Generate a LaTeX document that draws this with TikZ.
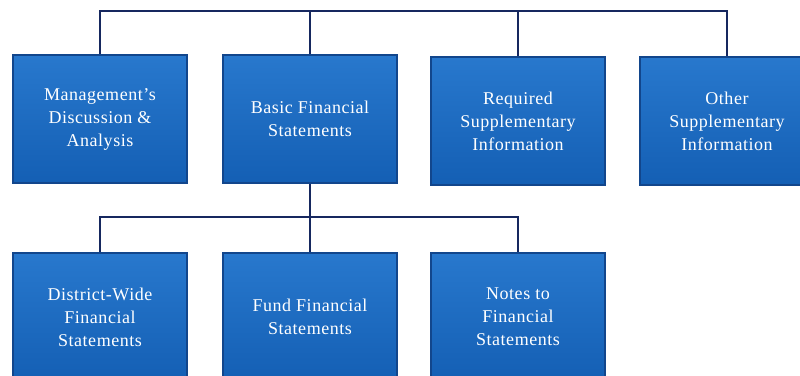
\documentclass[tikz,border=0pt]{standalone}
\usepackage{fontspec}
\setmainfont[LetterSpace=3]{Liberation Serif}
\definecolor{boxtop}{RGB}{40,120,205}
\definecolor{boxbot}{RGB}{20,95,180}
\definecolor{boxedge}{RGB}{18,70,140}
\definecolor{linecol}{RGB}{22,40,95}
\tikzset{
  orgbox/.style={rectangle, minimum width=174pt, minimum height=128pt,
    top color=boxtop, bottom color=boxbot, draw=boxedge, line width=1.2pt,
    text=white, align=center, font=\fontsize{18}{23}\selectfont, inner sep=2pt},
  conn/.style={draw=linecol, line width=1.8pt}
}
\begin{document}
\begin{tikzpicture}[x=1pt,y=-1pt]
\useasboundingbox (0,0) rectangle (800,375);
\clip (0,0) rectangle (800,375);
\coordinate (top) at (0,11);
\coordinate (mid) at (0,217);
\node[orgbox] (m) at (100,119) {Management's\\Discussion \&\\Analysis};
\node[orgbox] (b) at (310,119) {Basic Financial\\Statements};
\node[orgbox] (r) at (518,121) {Required\\Supplementary\\Information};
\node[orgbox] (o) at (727,121) {Other\\Supplementary\\Information};
\node[orgbox] (d) at (100,317) {District-Wide\\Financial\\Statements};
\node[orgbox] (f) at (310,317) {Fund Financial\\Statements};
\node[orgbox] (n) at (518,317) {Notes to\\Financial\\Statements};
\draw[conn] (m.north) -- (m.north |- top) -- (o.north |- top) -- (o.north);
\draw[conn] (b.north) -- (b.north |- top);
\draw[conn] (r.north) -- (r.north |- top);
\draw[conn] (b.south) -- (f.north);
\draw[conn] (d.north) -- (d.north |- mid) -- (n.north |- mid) -- (n.north);
\end{tikzpicture}
\end{document}
